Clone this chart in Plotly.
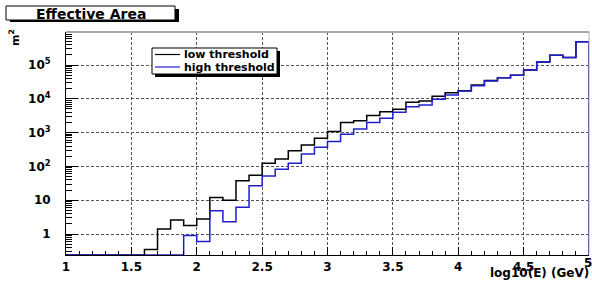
import plotly.graph_objects as go

# ---------------- data ----------------
bin_edges = [1.0, 1.1, 1.2, 1.3, 1.4, 1.5, 1.6, 1.7, 1.8, 1.9,
             2.0, 2.1, 2.2, 2.3, 2.4, 2.5, 2.6, 2.7, 2.8, 2.9,
             3.0, 3.1, 3.2, 3.3, 3.4, 3.5, 3.6, 3.7, 3.8, 3.9,
             4.0, 4.1, 4.2, 4.3, 4.4, 4.5, 4.6, 4.7, 4.8, 4.9, 5.0]

low_threshold = [0, 0, 0, 0, 0, 0, 0.35, 1.4, 2.6, 1.8,
                 2.8, 12, 10, 38, 55, 124, 165, 290, 430, 680,
                 1070, 2000, 2250, 3200, 4150, 4900, 7900, 8600, 12000, 15000,
                 17400, 25500, 34500, 42000, 50000, 71000, 123000, 194000, 166000, 490000]

high_threshold = [0, 0, 0, 0, 0, 0, 0, 0, 0, 0.9,
                  0.6, 4.9, 2.3, 6.2, 27, 52, 82, 124, 233, 370,
                  550, 890, 1280, 1980, 2650, 4000, 5850, 6600, 9700, 13000,
                  17000, 24500, 33700, 42000, 50000, 71000, 123000, 194000, 166000, 490000]

x_tick_vals = [1, 1.5, 2, 2.5, 3, 3.5, 4, 4.5, 5]
x_tick_text = ["1", "1.5", "2", "2.5", "3", "3.5", "4", "4.5", "5"]
y_tick_vals = [1, 10, 100, 1000, 10000, 100000]
y_tick_text = ["1", "10", "10<sup>2</sup>", "10<sup>3</sup>", "10<sup>4</sup>", "10<sup>5</sup>"]

title_text = "Effective Area"
x_title = "log10(E) (GeV)"
y_title = "m<sup>2</sup>"
series_names = ["low threshold", "high threshold"]
series_colors = ["#000000", "#1f1fcc"]

# ---------------- layout geometry ----------------
W, H = 592, 282
L, R, T, B = 66, 589, 32, 255       # plot area in pixels
YMIN_LOG, YMAX_LOG = -0.62, 5.976
floor_val = 10 ** YMIN_LOG

def px(x):
    return (x - L) / (R - L)

def py(y):
    return (B - y) / (B - T)

FONT = "DejaVu Sans"

fig = go.Figure()

def hist_trace(vals, name, color):
    ys = [v if v > 0 else floor_val for v in vals]
    xs = list(bin_edges[:-1]) + [bin_edges[-1], bin_edges[-1]]
    ys = ys + [ys[-1], floor_val]
    return go.Scatter(x=xs, y=ys, mode="lines", line=dict(color=color, width=1.5, shape="hv"),
                      name=name, showlegend=False, hoverinfo="skip")

fig.add_trace(hist_trace(low_threshold, series_names[0], series_colors[0]))
fig.add_trace(hist_trace(high_threshold, series_names[1], series_colors[1]))

y_minor = []
for d in range(-1, 6):
    for k in range(2, 10):
        v = k * 10 ** d
        if floor_val < v < 10 ** YMAX_LOG:
            y_minor.append(v)

# the last x label ("5") sits at the very edge of the page; draw it as an annotation
axis_x_text = x_tick_text[:-1] + [""]

grid_col = "#555555"
fig.update_xaxes(
    range=[1, 5], showline=True, linecolor="black", linewidth=1,
    tickmode="array", tickvals=x_tick_vals, ticktext=axis_x_text,
    ticks="inside", ticklen=8, tickcolor="black",
    tickfont=dict(family=FONT, size=12, color="black", weight="bold"),
    ticklabelstandoff=1,
    showgrid=True, gridcolor=grid_col, griddash="3px,2px", gridwidth=1,
    minor=dict(dtick=0.1, tick0=1, ticks="inside", ticklen=4, tickcolor="black", showgrid=False),
    zeroline=False, fixedrange=True,
)
fig.update_yaxes(
    type="log", range=[YMIN_LOG, YMAX_LOG], showline=True, linecolor="black", linewidth=1,
    tickmode="array", tickvals=y_tick_vals, ticktext=y_tick_text,
    ticks="inside", ticklen=12, tickcolor="black",
    tickfont=dict(family=FONT, size=12, color="black", weight="bold"),
    ticklabelstandoff=12,
    showgrid=True, gridcolor=grid_col, griddash="3px,2px", gridwidth=1,
    minor=dict(tickmode="array", tickvals=y_minor, ticks="inside", ticklen=6, tickcolor="black", showgrid=False),
    zeroline=False, fixedrange=True,
)

shapes = []
# frame top / right
shapes.append(dict(type="line", xref="paper", yref="paper", x0=0, x1=1, y0=1, y1=1,
                   line=dict(color="#a8a8a8", width=2)))
shapes.append(dict(type="line", xref="paper", yref="paper", x0=1, x1=1, y0=0, y1=1,
                   line=dict(color="#a8a8a8", width=1)))
# title box with shadow
shapes.append(dict(type="rect", xref="paper", yref="paper", x0=px(10), x1=px(179), y0=py(22), y1=py(9),
                   fillcolor="black", line=dict(width=0)))
shapes.append(dict(type="rect", xref="paper", yref="paper", x0=px(6), x1=px(175), y0=py(20), y1=py(6),
                   fillcolor="white", line=dict(color="black", width=1)))
# legend box with shadow
shapes.append(dict(type="rect", xref="paper", yref="paper", x0=px(155), x1=px(280), y0=py(77), y1=py(51),
                   fillcolor="black", line=dict(width=0)))
shapes.append(dict(type="rect", xref="paper", yref="paper", x0=px(152), x1=px(277), y0=py(74), y1=py(48),
                   fillcolor="white", line=dict(color="black", width=1)))
# legend samples
shapes.append(dict(type="line", xref="paper", yref="paper", x0=px(155), x1=px(180), y0=py(54.5), y1=py(54.5),
                   line=dict(color=series_colors[0], width=1.2)))
shapes.append(dict(type="line", xref="paper", yref="paper", x0=px(155), x1=px(180), y0=py(67), y1=py(67),
                   line=dict(color=series_colors[1], width=1.2)))

annotations = [
    dict(text=title_text, xref="paper", yref="paper", x=px(91), y=py(13.5), xanchor="center", yanchor="middle",
         showarrow=False, font=dict(family=FONT, size=14, color="black", weight="bold")),
    dict(text=series_names[0], xref="paper", yref="paper", x=px(182), y=py(54.5), xanchor="left", yanchor="middle",
         showarrow=False, font=dict(family=FONT, size=11, color="black", weight="bold")),
    dict(text=series_names[1], xref="paper", yref="paper", x=px(182), y=py(67), xanchor="left", yanchor="middle",
         showarrow=False, font=dict(family=FONT, size=11, color="black", weight="bold")),
    dict(text=x_title, xref="paper", yref="paper", x=px(591), y=py(273), xanchor="right", yanchor="middle",
         showarrow=False, font=dict(family=FONT, size=12, color="black", weight="bold")),
    dict(text=x_tick_text[-1], xref="x", yref="paper", x=x_tick_vals[-1], y=py(263), xanchor="center",
         yanchor="middle", xshift=-1, showarrow=False,
         font=dict(family=FONT, size=12, color="black", weight="bold")),
    dict(text=y_title, xref="paper", yref="paper", x=px(15), y=py(38), xanchor="center", yanchor="middle",
         textangle=-90, showarrow=False, font=dict(family=FONT, size=11, color="black", weight="bold")),
]

fig.update_layout(
    width=W, height=H,
    margin=dict(l=L, r=W - R, t=T, b=H - B, pad=0),
    paper_bgcolor="white", plot_bgcolor="white",
    shapes=shapes, annotations=annotations,
    showlegend=False,
)

fig.write_html("out.html", config={"displayModeBar": False},
               post_script="document.body.style.margin='0px';document.body.style.overflow='hidden';")
